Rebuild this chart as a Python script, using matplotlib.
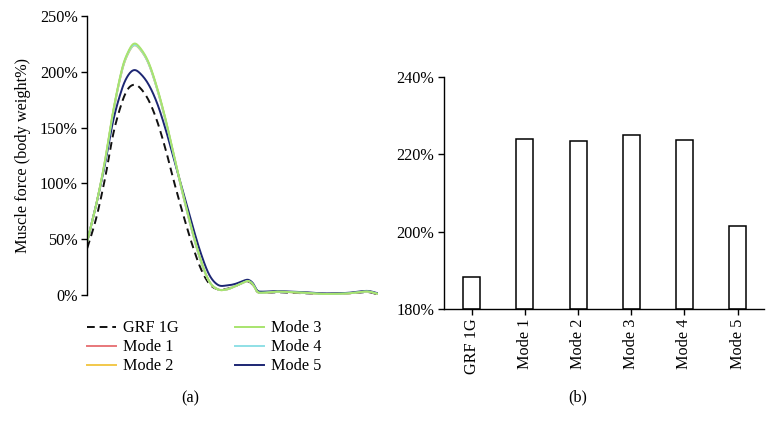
import matplotlib
matplotlib.use("Agg")
import matplotlib.pyplot as plt
import numpy as np

plt.rcParams['font.family'] = ['Liberation Serif', 'DejaVu Serif']

# ---- data: panel (a) ----
gait_pct = [0, 3, 6, 9, 12, 14, 16, 18, 21, 24, 27, 30, 33, 36, 39, 42, 45, 48,
            51, 54, 55.5, 57, 58.5, 60, 65, 70, 75, 80, 85, 90, 95, 97, 100]
grf_1g = [42, 68, 103, 145, 173, 184.5, 188.3, 186, 175, 156, 130, 100, 72, 46, 24, 10, 5, 5.5,
          8, 11.5, 12, 9, 3, 2, 2.5, 2, 1.5, 1, 1, 1.5, 2.5, 2.5, 0.5]
mode_1 = [48, 80, 118, 165, 202, 216.5, 223.9, 221, 208, 185, 156, 122, 89, 58, 31, 12, 5, 5,
          8, 11.5, 12.5, 9.5, 3, 2, 3, 2.5, 2, 1, 1, 1.5, 3, 3, 1]
mode_2 = [48, 80, 118, 165, 201.5, 216, 223.5, 220.5, 208, 185, 156, 122, 89, 58, 31, 12, 5, 5,
          8, 11.5, 12.5, 9.5, 3, 2, 3, 2.5, 2, 1, 1, 1.5, 3, 3, 1]
mode_3 = [48, 80, 119, 166, 203, 217.5, 225.1, 222, 209, 186, 157, 123, 90, 59, 32, 12, 5, 5,
          8, 11.5, 12.5, 9.5, 3, 2, 3, 2.5, 2, 1, 1, 1.5, 3, 3, 1]
mode_4 = [48, 80, 118, 165, 202, 216.5, 223.7, 221, 208, 185, 156, 122, 89, 58, 31, 12, 5, 5,
          8, 11.5, 12.5, 9.5, 3, 2, 3, 2.5, 2, 1, 1, 1.5, 3, 3, 1]
mode_5 = [48, 80, 116, 157, 185, 196.5, 201.4, 199, 189, 172, 148, 120, 92, 64, 38, 18, 9, 8.5,
          10, 13, 13.5, 10.5, 4, 3, 3.5, 3, 2.5, 1.5, 1.5, 2, 3.5, 3.5, 1.5]

# ---- data: panel (b) ----
bar_labels = ["GRF 1G", "Mode 1", "Mode 2", "Mode 3", "Mode 4", "Mode 5"]
peak_force = [188.3, 223.9, 223.5, 225.1, 223.7, 201.4]

series_names = ["GRF 1G", "Mode 1", "Mode 2", "Mode 3", "Mode 4", "Mode 5"]
series_colors = ["#111111", "#e8777a", "#f2c84b", "#a8e46e", "#8fe0e6", "#1c2673"]
series_styles = ["--", "-", "-", "-", "-", "-"]

fig = plt.figure(figsize=(7.75, 4.3), dpi=100)
FS = 11.7

# ---- panel (a) ----
axa = fig.add_axes([0.1126, 0.314, 0.375, 0.649])
xs = np.array(gait_pct, dtype=float)
def smooth(y):
    # dense cubic Hermite sampling through the read points (display smoothing only)
    y = np.array(y, dtype=float)
    xd, yd = [], []
    n = len(xs)
    for i in range(n - 1):
        p0 = y[max(i - 1, 0)]; p1 = y[i]; p2 = y[i + 1]; p3 = y[min(i + 2, n - 1)]
        x0 = xs[max(i - 1, 0)]; x1 = xs[i]; x2 = xs[i + 1]; x3 = xs[min(i + 2, n - 1)]
        m1 = (p2 - p0) / (x2 - x0) * (x2 - x1)
        m2 = (p3 - p1) / (x3 - x1) * (x2 - x1)
        t = np.linspace(0, 1, 12, endpoint=False)
        h00 = 2*t**3 - 3*t**2 + 1; h10 = t**3 - 2*t**2 + t
        h01 = -2*t**3 + 3*t**2; h11 = t**3 - t**2
        xd.extend(x1 + t * (x2 - x1))
        yd.extend(h00*p1 + h10*m1 + h01*p2 + h11*m2)
    xd.append(xs[-1]); yd.append(y[-1])
    return np.array(xd), np.array(yd)

all_series = [grf_1g, mode_1, mode_2, mode_3, mode_4, mode_5]
order = [0, 1, 2, 5, 4, 3]
handles = {}
for k in order:
    xd, yd = smooth(all_series[k])
    ln, = axa.plot(xd, yd, color=series_colors[k], ls=series_styles[k], lw=1.4,
                   dashes=(4, 2.5) if series_styles[k] == "--" else (None, None),
                   label=series_names[k])
    handles[k] = ln

axa.set_xlim(0, 100)
axa.set_ylim(0, 250)
axa.set_yticks([0, 50, 100, 150, 200, 250])
axa.set_yticklabels(["0%", "50%", "100%", "150%", "200%", "250%"])
axa.set_xticks([])
for s in ["top", "right", "bottom"]:
    axa.spines[s].set_visible(False)
axa.spines["left"].set_linewidth(1.0)
axa.tick_params(axis="y", direction="out", length=4, width=1.0, labelsize=FS, pad=3)
axa.set_ylabel("Muscle force (body weight%)", fontsize=FS, labelpad=6)

axa.legend([handles[k] for k in range(6)], series_names, ncol=2, frameon=False,
           loc="upper left", bbox_to_anchor=(0.112, 0.255), bbox_transform=fig.transFigure,
           fontsize=FS, handlelength=1.8, handletextpad=0.4, columnspacing=3.5,
           labelspacing=0.18, borderaxespad=0, borderpad=0)

fig.text(0.245, 0.074, "(a)", fontsize=FS, ha="center", va="center")

# ---- panel (b) ----
axb = fig.add_axes([0.573, 0.2814, 0.413, 0.5395])
pos = np.arange(len(bar_labels))
axb.bar(pos, np.array(peak_force) - 180, bottom=180, width=0.32,
        color="white", edgecolor="black", linewidth=1.1)
axb.set_xlim(-0.52, 5.5)
axb.set_ylim(180, 240)
axb.set_yticks([180, 200, 220, 240])
axb.set_yticklabels(["180%", "200%", "220%", "240%"])
axb.set_xticks(pos)
axb.set_xticklabels(bar_labels, rotation=90)
for s in ["top", "right"]:
    axb.spines[s].set_visible(False)
axb.spines["left"].set_linewidth(1.0)
axb.spines["bottom"].set_linewidth(1.0)
axb.tick_params(axis="both", direction="out", length=4, width=1.0, labelsize=FS, pad=3)

fig.text(0.746, 0.076, "(b)", fontsize=FS, ha="center", va="center")

fig.savefig("out.png", dpi=100)
